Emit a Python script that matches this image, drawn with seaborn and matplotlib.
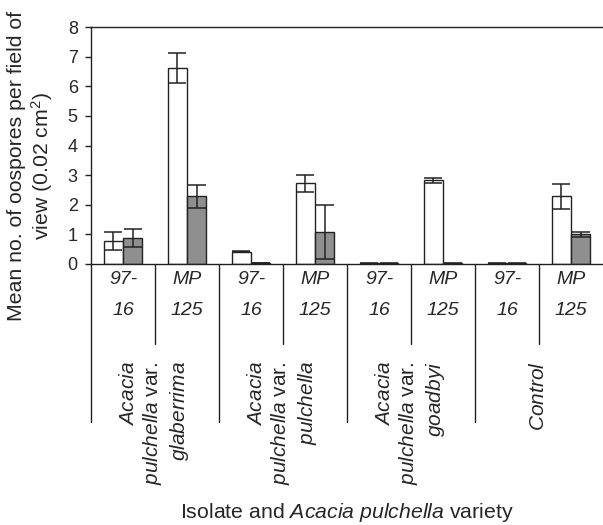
import pandas as pd
import seaborn as sns
import matplotlib.pyplot as plt

# values
groups = ["97-16 glab", "MP125 glab", "97-16 pulch", "MP125 pulch",
          "97-16 goad", "MP125 goad", "97-16 ctrl", "MP125 ctrl"]
isolate_labels = ["97-\n16", "MP\n125"] * 4
variety_labels = ["$\\it{Acacia}$\n$\\it{pulchella}$ var.\n$\\it{glaberrima}$",
                  "$\\it{Acacia}$\n$\\it{pulchella}$ var.\n$\\it{pulchella}$",
                  "$\\it{Acacia}$\n$\\it{pulchella}$ var.\n$\\it{goadbyi}$",
                  "$\\it{Control}$"]
white_mean = [0.78, 6.62, 0.42, 2.72, 0.02, 2.83, 0.02, 2.28]
white_se = [0.30, 0.50, 0.02, 0.30, 0.01, 0.08, 0.01, 0.42]
grey_mean = [0.89, 2.28, 0.03, 1.08, 0.02, 0.02, 0.02, 1.00]
grey_se = [0.30, 0.40, 0.01, 0.90, 0.01, 0.01, 0.01, 0.09]

sns.set_style("ticks")
plt.rcParams["font.family"] = ["Liberation Sans", "DejaVu Sans"]
plt.rcParams["mathtext.fontset"] = "custom"
plt.rcParams["mathtext.rm"] = "Liberation Sans"
plt.rcParams["mathtext.it"] = "Liberation Sans:italic"

df = pd.DataFrame({
    "group": groups * 2,
    "series": ["white"] * 8 + ["grey"] * 8,
    "mean": white_mean + grey_mean,
    "se": white_se + grey_se,
})

fig = plt.figure(figsize=(6.03, 5.25), dpi=100)
ax = fig.add_axes([91 / 603, 1 - 264 / 525, 1 - 91 / 603, 237 / 525])

sns.barplot(data=df, x="group", y="mean", hue="series", order=groups,
            hue_order=["white", "grey"], palette=["white", "#8f8f8f"],
            edgecolor="#222222", linewidth=1.0, width=0.6, errorbar=None,
            legend=False, ax=ax)

# error bars on top of each bar
for cont, se in zip(ax.containers, [white_se, grey_se]):
    bars = sorted(cont.patches, key=lambda p: p.get_x())
    xs = [p.get_x() + p.get_width() / 2 for p in bars]
    hs = [p.get_height() for p in bars]
    ax.errorbar(xs, hs, yerr=se, fmt="none", ecolor="#222222",
                elinewidth=1.1, capsize=6.5, capthick=1.1, zorder=5)

ax.set_xlim(-0.5, 7.5)
ax.set_ylim(0, 8)
ax.set_yticks(range(0, 9))
ax.tick_params(axis="y", labelsize=13, length=4.5, width=1, pad=5,
               color="#222222")
ax.tick_params(axis="x", length=0, labelbottom=False)
ax.set_xlabel("")
ax.set_ylabel("")
for s in ["left", "top", "bottom"]:
    ax.spines[s].set_color("#222222")
    ax.spines[s].set_linewidth(1.0)
ax.spines["right"].set_visible(False)

# category axis below the plot
tr = ax.get_xaxis_transform()
for i in range(8):
    ax.text(i, -0.03, isolate_labels[i], transform=tr, ha="center", va="top",
            fontsize=14, fontstyle="italic", linespacing=2.05)
for i in range(8):
    b = i - 0.5
    if i % 2 == 0:
        ax.plot([b, b], [0, -0.667], transform=tr, color="#222222", lw=1.0,
                clip_on=False)
    else:
        ax.plot([b, b], [0, -0.338], transform=tr, color="#222222", lw=1.0,
                clip_on=False)
for j, lab in enumerate(variety_labels):
    ax.text(2 * j + 0.5, -0.41, lab, transform=tr, rotation=90, ha="center",
            va="top", multialignment="right", fontsize=15, linespacing=1.2)

fig.text(347 / 603, 1 - 513 / 525,
         "Isolate and $\\it{Acacia\\ pulchella}$ variety",
         ha="center", va="center", fontsize=15.3)
fig.text(31 / 603, 1 - 166 / 525,
         "Mean no. of oospores per field of\nview (0.02 cm$^2$)",
         rotation=90, ha="center", va="center", fontsize=15.3, linespacing=1.15)

fig.savefig("out.png", dpi=100)
